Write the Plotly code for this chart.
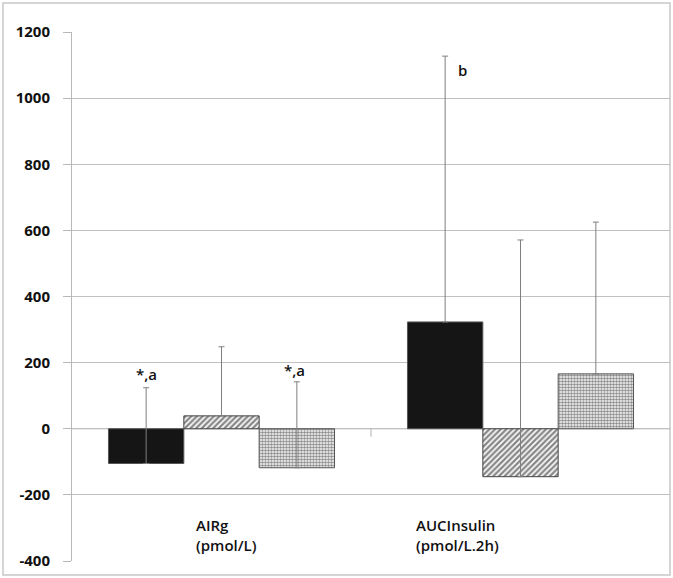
import plotly.graph_objects as go

categories = ["AIRg", "AUCInsulin"]
cat_labels_top = ["AIRg", "AUCInsulin"]
cat_labels_bottom = ["(pmol/L)", "(pmol/L.2h)"]

series1 = [-105, 323]
err1 = [229, 804]
series2 = [39, -145]
err2 = [209, 716]
series3 = [-118, 166]
err3 = [260, 459]

y_ticks = [-400, -200, 0, 200, 400, 600, 800, 1000, 1200]

W, H = 673, 578
ml, mr, mt, mb = 72, 3, 32, 17

fig = go.Figure()

err_style = dict(type="data", symmetric=False, color="#7f7f7f", thickness=1, width=3)

fig.add_bar(x=categories, y=series1, name="s1",
            marker=dict(color="#151515", line=dict(color="#555555", width=1)),
            error_y=dict(array=err1, arrayminus=[0, 0], **err_style))
fig.add_bar(x=categories, y=series2, name="s2",
            marker=dict(color="white", line=dict(color="#444444", width=1),
                        pattern=dict(shape="/", fgcolor="#111111", bgcolor="white",
                                     size=4, solidity=0.6)),
            error_y=dict(array=err2, arrayminus=[0, 0], **err_style))
fig.add_bar(x=categories, y=series3, name="s3",
            marker=dict(color="white", line=dict(color="#555555", width=1),
                        pattern=dict(shape=".", fgcolor="#1a1a1a", bgcolor="white",
                                     size=3, solidity=0.6)),
            error_y=dict(array=err3, arrayminus=[0, 0], **err_style))

font_lbl = dict(family="Open Sans", size=15, color="#111111", weight=600)

annotations = []
# significance labels
annotations.append(dict(x=categories[0], y=series1[0] + err1[0], text="*,a", showarrow=False,
                        xref="x", yref="y", xshift=-75, yshift=14, font=font_lbl))
annotations.append(dict(x=categories[0], y=series3[0] + err3[0], text="*,a", showarrow=False,
                        xref="x", yref="y", xshift=73, yshift=12, font=font_lbl))
annotations.append(dict(x=categories[1], y=series1[1] + err1[1], text="b", showarrow=False,
                        xref="x", yref="y", xshift=-58, yshift=-14, font=font_lbl))
# category labels inside plot area
shifts = [-28, -107]
for i, c in enumerate(categories):
    annotations.append(dict(x=c, y=-320, text=cat_labels_top[i] + "<br>" + cat_labels_bottom[i],
                            showarrow=False, xref="x", yref="y", xanchor="left", align="left",
                            xshift=shifts[i], font=font_lbl))

pw = W - ml - mr
ph = H - mt - mb
shapes = [
    dict(type="rect", xref="paper", yref="paper",
         x0=(3 - ml) / pw, x1=(670 - ml) / pw,
         y0=(H - mb - 575) / ph, y1=(H - mb - 3) / ph,
         line=dict(color="#c8c8c8", width=1.5), fillcolor="rgba(0,0,0,0)", layer="below"),
    dict(type="line", xref="x", yref="y", x0=0.5, x1=0.5, ysizemode="pixel", yanchor=0,
         y0=0, y1=-8, line=dict(color="#b0b0b0", width=1)),
    dict(type="line", xref="paper", yref="y", x0=0, x1=1, y0=0, y1=0,
         line=dict(color="#a8a8a8", width=1), layer="below"),
]

fig.update_layout(
    width=W, height=H,
    margin=dict(l=ml, r=mr, t=mt, b=mb),
    paper_bgcolor="white", plot_bgcolor="white",
    barmode="group", bargap=0.244, bargroupgap=0,
    showlegend=False,
    annotations=annotations,
    shapes=shapes,
    font=dict(family="Open Sans", size=15, color="#111111"),
)
fig.update_xaxes(type="category", range=[-0.5, 1.5], showticklabels=False, ticks="",
                 showgrid=False, zeroline=False, showline=False)
fig.update_yaxes(range=[-400, 1200], tickvals=y_ticks, ticktext=[str(v) for v in y_ticks],
                 showgrid=True, gridcolor="#c0c0c0", gridwidth=1,
                 zeroline=False, showline=True, linecolor="#b8b8b8", linewidth=1,
                 ticks="outside", ticklen=8, tickcolor="#b8b8b8",
                 tickfont=dict(family="Open Sans", size=15, color="#111111", weight=700),
                 ticklabelstandoff=10)

fig.write_html("out.html", config={"displayModeBar": False},
               post_script="document.body.style.margin='0';document.body.style.overflow='hidden';")
